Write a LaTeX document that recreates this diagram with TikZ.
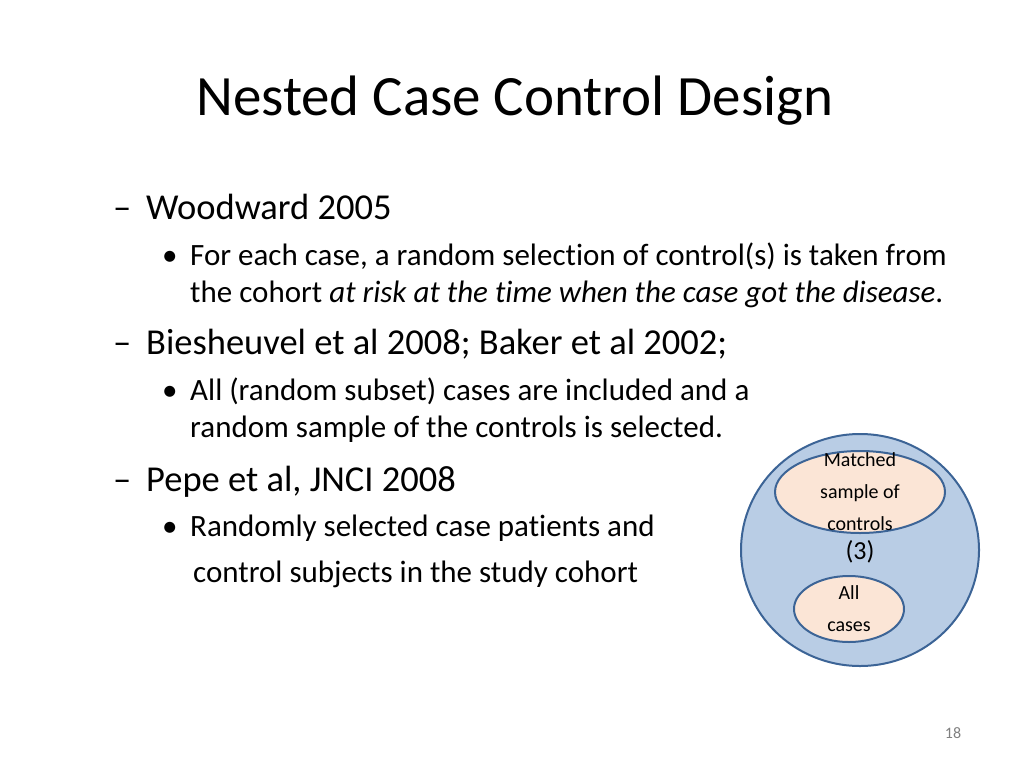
\documentclass[tikz,border=0pt]{standalone}
\usepackage{fontspec}
\setmainfont[RawFeature={-liga}]{Carlito}
\usetikzlibrary{positioning}
\definecolor{cohortblue}{HTML}{B9CDE5}
\definecolor{edgeblue}{HTML}{3C6496}
\definecolor{peach}{HTML}{FBE5D6}
\tikzset{
  lvlone/.style={anchor=base west,inner sep=0pt,font=\fontsize{36.5}{40}\selectfont},
  lvltwo/.style={anchor=base west,inner sep=0pt,font=\fontsize{31}{36}\selectfont},
  smalltxt/.style={align=center,font=\fontsize{20}{32}\selectfont},
}
\begin{document}
\begin{tikzpicture}[x=1pt,y=-1pt]
\useasboundingbox (0,0) rectangle (1024,768);
\node[anchor=base west,inner sep=0pt,font=\fontsize{57}{64}\selectfont] (title) at (196,115) {Nested Case Control Design};

% first level
\node[lvlone] (d1) at (113,219) {\textendash};
\node[lvlone] (w) at (146,219) {Woodward 2005};
\node[lvltwo] (b1) at (162,265) {\textbullet};
\node[lvltwo] (t1) at (190,265) {For each case, a random selection of control(s) is taken from};
\node[lvltwo] (t1b) at (190,302) {the cohort \textit{at risk at the time when the case got the disease}.};
\node[lvlone] (d2) at (113,354) {\textendash};
\node[lvlone] (bies) at (146,354) {Biesheuvel et al 2008; Baker et al 2002;};
\node[lvltwo] (b2) at (162,400) {\textbullet};
\node[lvltwo] (t2) at (190,400) {All (random subset) cases are included and a};
\node[lvltwo] (t2b) at (190,437) {random sample of the controls is selected.};
\node[lvlone] (d3) at (113,491) {\textendash};
\node[lvlone] (pepe) at (146,491) {Pepe et al, JNCI 2008};
\node[lvltwo] (b3) at (162,536) {\textbullet};
\node[lvltwo] (t3) at (190,536) {Randomly selected case patients and};
\node[lvltwo] (t3b) at (193,582) {control subjects in the study cohort};

% cohort diagram
\draw[draw=edgeblue,line width=2pt,fill=cohortblue] (860,550) ellipse [x radius=119,y radius=116];
\draw[draw=edgeblue,line width=2pt,fill=peach] (860,492) ellipse [x radius=85,y radius=41];
\node[smalltxt] (matched) at (860,492) {Matched\\sample of\\controls};
\node[font=\fontsize{26}{30}\selectfont] (three) at (860,552) {(3)};
\draw[draw=edgeblue,line width=2pt,fill=peach] (849,609) ellipse [x radius=55,y radius=33];
\node[smalltxt] (cases) at (849,609) {All\\cases};

\node[font=\fontsize{16}{18}\selectfont,text=gray] (page) at (953,733) {18};
\end{tikzpicture}
\end{document}
